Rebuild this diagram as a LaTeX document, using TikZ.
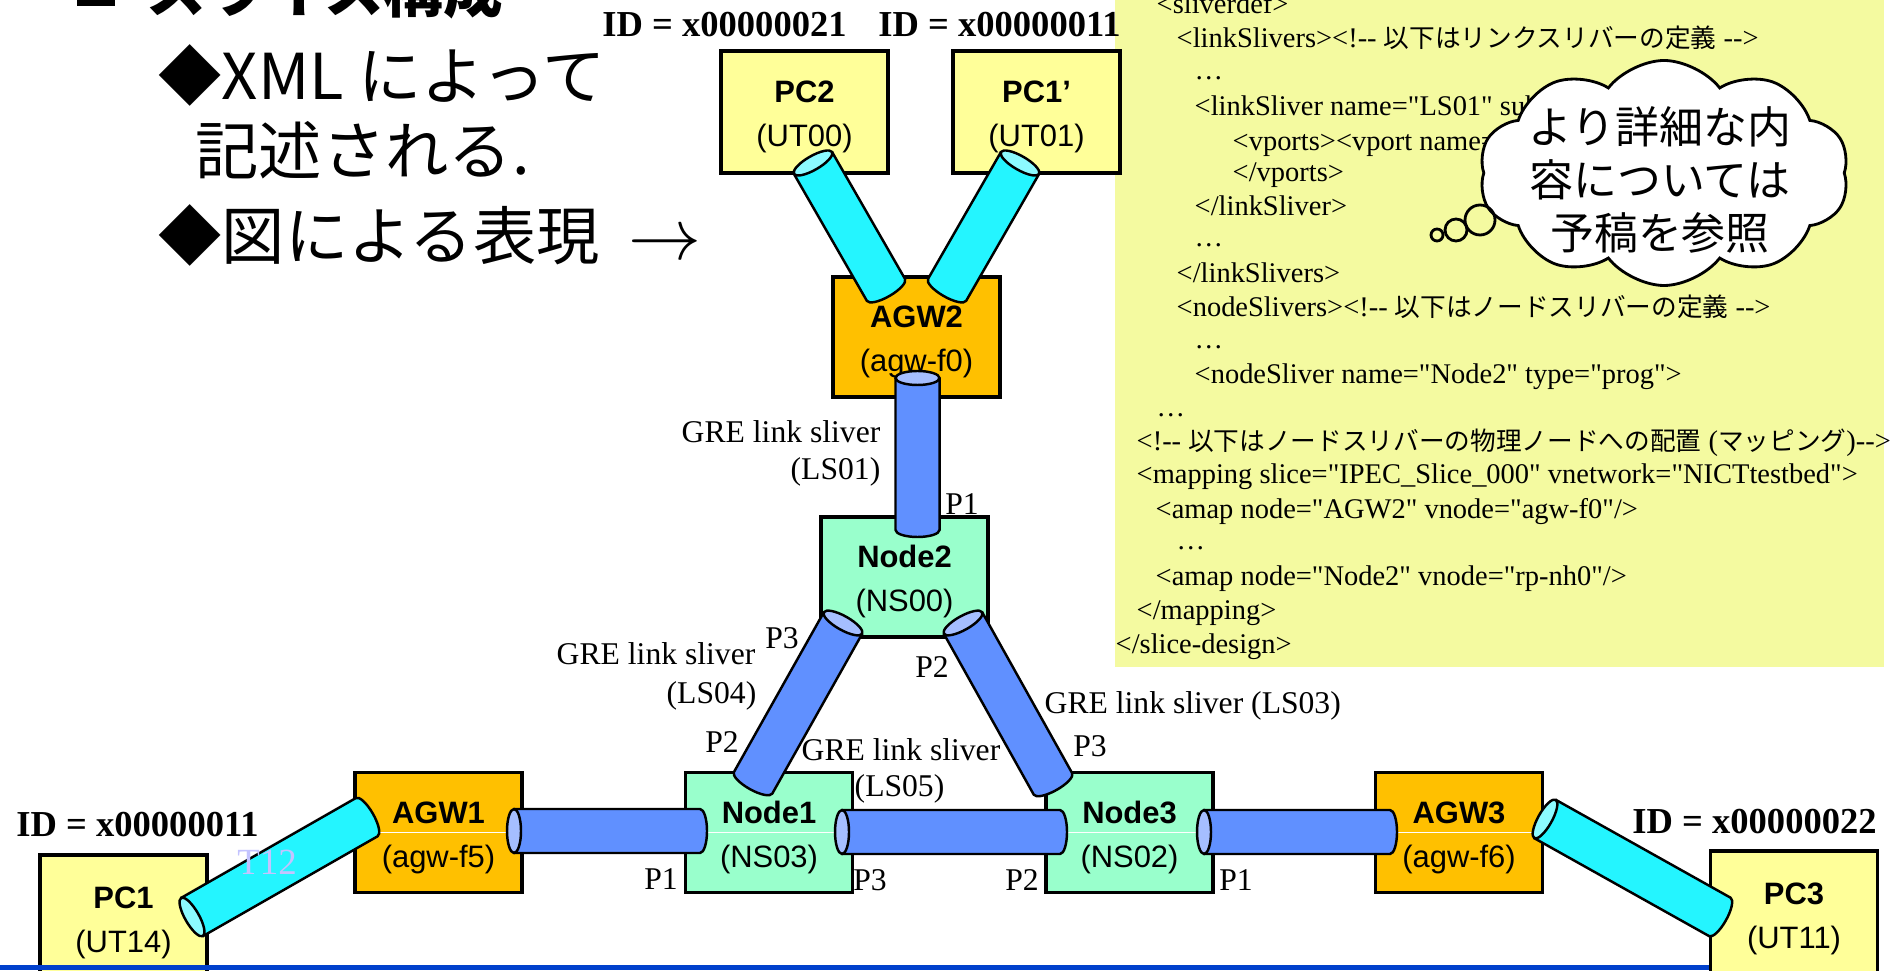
\documentclass[tikz,border=0pt]{standalone}
\usepackage{fontspec}
\setmainfont{Liberation Serif}
\setsansfont{Liberation Sans}
\newfontfamily\jpfont{Noto Sans CJK JP}
\font\codefnt="Liberation Serif" at 8.1pt
\usetikzlibrary{shapes.symbols}

\definecolor{pcfill}{RGB}{255,255,153}
\definecolor{agwfill}{RGB}{255,192,0}
\definecolor{nsfill}{RGB}{153,255,204}
\definecolor{codebg}{RGB}{244,250,160}
\definecolor{cyantube}{RGB}{36,245,255}
\definecolor{cyanface}{RGB}{140,250,255}
\definecolor{bluetube}{RGB}{96,144,255}
\definecolor{blueface}{RGB}{165,190,255}
\definecolor{rulecol}{RGB}{0,64,204}
\definecolor{tcol}{RGB}{195,195,255}

\newcommand\cj[1]{{\jpfont\fontsize{7.3}{9}\selectfont #1}}
\newcommand\bx[2]{\rule{0pt}{9pt}\textbf{#1}\\(#2)}

% tube radius and depth of the end ellipse
\def\tuber{0.22cm}
\def\tubee{0.07cm}
\makeatletter
% \sliver{open end}{far end}{cyan|blue}
\newcommand{\sliver}[3]{%
  \pgfpointdiff{\pgfpointanchor{#1}{center}}{\pgfpointanchor{#2}{center}}%
  \edef\slx{\strip@pt\pgf@x}\edef\sly{\strip@pt\pgf@y}%
  \pgfmathsetmacro\slang{atan2(\sly,\slx)}%
  \pgfmathsetmacro\sllen{veclen(\slx,\sly)}%
  \begin{scope}[shift={(#1)},rotate=\slang]
    \filldraw[fill=#3tube,line width=0.7pt] (0,\tuber) -- (\sllen pt,\tuber)
      arc[start angle=90,end angle=-90,x radius=\tubee,y radius=\tuber] -- (0,-\tuber);
    \filldraw[fill=#3face,line width=0.7pt] (0,0) ellipse[x radius=\tubee,y radius=\tuber];
  \end{scope}}
\makeatother

\tikzset{
  box/.style={draw,line width=1pt,minimum width=1.67cm,minimum height=1.2cm,
    inner sep=0pt,align=center,font=\sffamily\fontsize{8.8}{12.5}\selectfont},
  pcbox/.style={box,fill=pcfill},
  agwbox/.style={box,fill=agwfill},
  nsbox/.style={box,fill=nsfill},
  lbl/.style={inner sep=0pt,font=\fontsize{9}{11}\selectfont},
  idlbl/.style={inner sep=0pt,font=\bfseries\fontsize{10.4}{12}\selectfont},
  code/.style={anchor=base west,inner sep=0pt,font=\codefnt},
  bullet/.style={anchor=west,inner sep=0pt,font=\jpfont\fontsize{18}{22}\selectfont},
  bubble/.style={circle,draw,line width=0.8pt,inner sep=0pt},
}

\begin{document}
\begin{tikzpicture}
\useasboundingbox (0,0) rectangle (18.92,9.70);

% xml panel
\fill[codebg] (11.15,3.03) rectangle (18.84,9.70);
\node[code] (l1) at (11.56,9.56) {<sliverdef>};
\node[code] (l2) at (11.76,9.22) {<linkSlivers><!-- \cj{以下はリンクスリバーの定義} -->};
\node[code] (l3) at (11.94,8.90) {…};
\node[code] (l4) at (11.94,8.54) {<linkSliver name="LS01" subt};
\node[code] (l5) at (12.32,8.19) {<vports><vport name="e1};
\node[code] (l6) at (12.32,7.88) {</vports>};
\node[code] (l7) at (11.94,7.54) {</linkSliver>};
\node[code] (l8) at (11.94,7.23) {…};
\node[code] (l9) at (11.76,6.87) {</linkSlivers>};
\node[code] (l10) at (11.76,6.53) {<nodeSlivers><!-- \cj{以下はノードスリバーの定義} -->};
\node[code] (l11) at (11.94,6.21) {…};
\node[code] (l12) at (11.94,5.86) {<nodeSliver name="Node2" type="prog">};
\node[code] (l13) at (11.56,5.53) {…};
\node[code] (l14) at (11.36,5.19) {<!-- \cj{以下はノードスリバーの物理ノードへの配置} (\cj{マッピング})-->};
\node[code] (l15) at (11.36,4.86) {<mapping slice="IPEC\_Slice\_000" vnetwork="NICTtestbed">};
\node[code] (l16) at (11.55,4.51) {<amap node="AGW2" vnode="agw-f0"/>};
\node[code] (l17) at (11.76,4.20) {…};
\node[code] (l18) at (11.55,3.84) {<amap node="Node2" vnode="rp-nh0"/>};
\node[code] (l19) at (11.36,3.51) {</mapping>};
\node[code] (l20) at (11.15,3.16) {</slice-design>};

% thought cloud
\node[cloud,draw,fill=white,line width=0.8pt,cloud puffs=10,cloud puff arc=105,cloud ignores aspect,
  minimum width=3.7cm,minimum height=2.25cm] (cloud) at (16.64,7.97) {};
\node[inner sep=0pt,align=center,font=\jpfont\fontsize{12.5}{15}\selectfont] (cloudtxt)
  at (16.60,7.90) {より詳細な内\\容については\\予稿を参照};
\node[bubble,minimum size=0.30cm] (bub1) at (14.80,7.50) {};
\node[bubble,minimum size=0.22cm] (bub2) at (14.56,7.40) {};
\node[bubble,minimum size=0.12cm] (bub3) at (14.37,7.35) {};

% slide text
\fill (0.77,9.64) rectangle (1.15,9.75);
\node[anchor=base west,inner sep=0pt,font=\jpfont\bfseries\fontsize{17}{20}\selectfont] (title)
  at (1.46,9.57) {スライス構成};
\node[bullet] (item1) at (1.58,8.95) {◆XML によって};
\node[bullet] (item1b) at (1.95,8.20) {記述される.};
\node[bullet] (item2) at (1.58,7.35) {◆図による表現\hspace{0.45em}{\fontsize{21}{21}\selectfont$\rightarrow$}};

% boxes
\node[pcbox,minimum height=1.22cm] (pc2) at (8.045,8.58) {\bx{PC2}{UT00}};
\node[pcbox,minimum height=1.22cm] (pc1b) at (10.365,8.58) {\bx{PC1’}{UT01}};
\node[agwbox] (agw2) at (9.165,6.33) {\bx{AGW2}{agw-f0}};
\node[nsbox] (node2) at (9.045,3.93) {\bx{Node2}{NS00}};
\node[agwbox] (agw1) at (4.385,1.375) {\bx{AGW1}{agw-f5}};
\node[nsbox] (node1) at (7.69,1.375) {\bx{Node1}{NS03}};
\node[nsbox] (node3) at (11.295,1.375) {\bx{Node3}{NS02}};
\node[agwbox] (agw3) at (14.59,1.375) {\bx{AGW3}{agw-f6}};
\node[pcbox,minimum height=1.26cm] (pc1) at (1.235,0.52) {\bx{PC1}{UT14}};
\node[pcbox,minimum height=1.26cm] (pc3) at (17.94,0.56) {\bx{PC3}{UT11}};

\draw[white,line width=0.5pt] (agw1.west) -- (agw3.east);

% tube ends
\coordinate (e-pc2) at (8.13,8.07);   \coordinate (e-agw2a) at (8.86,6.80);
\coordinate (e-pc1b) at (10.20,8.07); \coordinate (e-agw2b) at (9.47,6.80);
\coordinate (e-agw2c) at (9.175,5.92); \coordinate (e-node2a) at (9.175,4.40);
\coordinate (e-node2b) at (8.43,3.47); \coordinate (e-node1a) at (7.53,1.87);
\coordinate (e-node2c) at (9.63,3.47); \coordinate (e-node3a) at (10.53,1.86);
\coordinate (e-agw1a) at (5.14,1.39);  \coordinate (e-node1b) at (7.00,1.39);
\coordinate (e-node1c) at (8.42,1.38); \coordinate (e-node3b) at (10.60,1.38);
\coordinate (e-node3c) at (12.04,1.38); \coordinate (e-agw3a) at (13.90,1.38);
\coordinate (e-pc1) at (1.92,0.53);    \coordinate (e-agw1b) at (3.67,1.53);
\coordinate (e-agw3b) at (15.45,1.51); \coordinate (e-pc3) at (17.20,0.53);

\sliver{e-pc2}{e-agw2a}{cyan}
\sliver{e-pc1b}{e-agw2b}{cyan}
\sliver{e-agw2c}{e-node2a}{blue}
\sliver{e-node2b}{e-node1a}{blue}
\sliver{e-node2c}{e-node3a}{blue}
\sliver{e-agw1a}{e-node1b}{blue}
\sliver{e-node1c}{e-node3b}{blue}
\sliver{e-node3c}{e-agw3a}{blue}
\sliver{e-pc1}{e-agw1b}{cyan}
\sliver{e-agw3b}{e-pc3}{cyan}

% labels
\node[idlbl] (id21) at (7.245,9.45) {ID = x00000021};
\node[idlbl] (id11) at (9.995,9.45) {ID = x00000011};
\node[idlbl] (id11b) at (1.375,1.45) {ID = x00000011};
\node[idlbl] (id22) at (17.545,1.48) {ID = x00000022};

\node[lbl,anchor=east] (g1) at (8.81,5.38) {GRE link sliver};
\node[lbl,anchor=east] (g1b) at (8.81,4.98) {(LS01)};
\node[lbl,anchor=east] (g4) at (7.56,3.16) {GRE link sliver};
\node[lbl,anchor=east] (g4b) at (7.57,2.74) {(LS04)};
\node[lbl,anchor=west] (g5) at (8.01,2.20) {GRE link sliver};
\node[lbl,anchor=west] (g5b) at (8.54,1.81) {(LS05)};
\node[lbl,anchor=west] (g3) at (10.44,2.64) {GRE link sliver (LS03)};

\node[lbl] (n2p1) at (9.62,4.66) {P1};
\node[lbl] (n2p3) at (7.82,3.32) {P3};
\node[lbl] (n2p2) at (9.32,3.03) {P2};
\node[lbl] (n1p2) at (7.22,2.28) {P2};
\node[lbl] (n3p3) at (10.90,2.24) {P3};
\node[lbl] (n1p1) at (6.61,0.91) {P1};
\node[lbl] (n1p3) at (8.70,0.90) {P3};
\node[lbl] (n3p2) at (10.22,0.90) {P2};
\node[lbl] (n3p1) at (12.36,0.90) {P1};
\node[inner sep=0pt,text=tcol,font=\fontsize{10.5}{12}\selectfont] (t12) at (2.67,1.08) {T12};

\draw[rulecol,line width=0.05cm] (0,0.025) -- (pc3.west |- 0,0.025);
\end{tikzpicture}
\end{document}
